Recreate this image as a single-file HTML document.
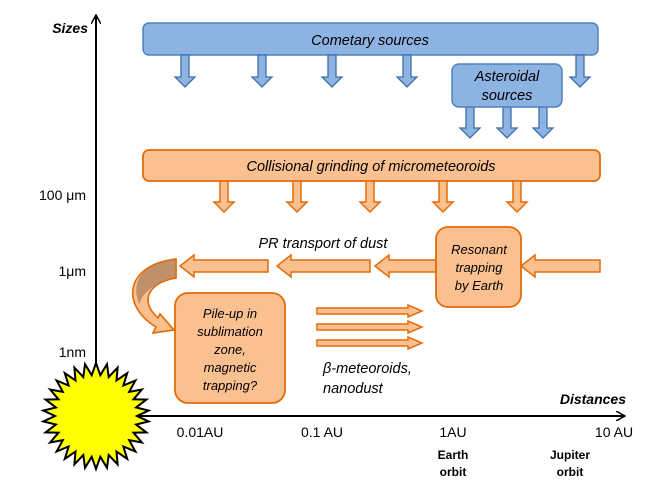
<!DOCTYPE html>
<html><head><meta charset="utf-8"><style>
html,body{margin:0;padding:0;background:#fff;}
svg{display:block;font-family:"Liberation Sans",sans-serif;}
.it{font-style:italic;}
</style></head><body>
<svg width="664" height="498" viewBox="0 0 664 498" xmlns="http://www.w3.org/2000/svg">
<defs>
<marker id="ah" markerWidth="10" markerHeight="10" refX="8" refY="5" orient="auto" markerUnits="userSpaceOnUse"><path d="M0,0 L9,5 L0,10" fill="none" stroke="#000" stroke-width="1.5"/></marker>
</defs>
<line x1="96" y1="416" x2="96" y2="16" stroke="#000" stroke-width="2" marker-end="url(#ah)"/>
<line x1="96" y1="416" x2="624" y2="416" stroke="#000" stroke-width="2" marker-end="url(#ah)"/>
<text x="88" y="33" text-anchor="end" font-size="14" font-weight="bold" font-style="italic">Sizes</text>
<text x="626" y="404" text-anchor="end" font-size="14" font-weight="bold" font-style="italic">Distances</text>
<g font-size="14" text-anchor="end">
<text x="86" y="200">100 μm</text>
<text x="86" y="276">1μm</text>
<text x="86" y="357">1nm</text>
</g>
<g font-size="14" text-anchor="middle">
<text x="200" y="437">0.01AU</text>
<text x="322" y="437">0.1 AU</text>
<text x="453" y="437">1AU</text>
<text x="614" y="437">10 AU</text>
</g>
<g font-size="12" font-weight="bold" text-anchor="middle">
<text x="453" y="459">Earth</text><text x="453" y="476">orbit</text>
<text x="570" y="459">Jupiter</text><text x="570" y="476">orbit</text>
</g>
<rect x="143" y="23" width="455" height="32" rx="6" fill="#8db3e2" stroke="#4f81bd" stroke-width="1.5"/>
<text x="370" y="45" text-anchor="middle" font-size="14.5" class="it">Cometary sources</text>
<g fill="#8db3e2" stroke="#3f6ea8" stroke-width="1.3">
<polygon points="181,55 189,55 189,77 195,77 185,87 175,77 181,77" />
<polygon points="258,55 266,55 266,77 272,77 262,87 252,77 258,77" />
<polygon points="328,55 336,55 336,77 342,77 332,87 322,77 328,77" />
<polygon points="403,55 411,55 411,77 417,77 407,87 397,77 403,77" />
<polygon points="576,55 584,55 584,77 590,77 580,87 570,77 576,77" />
<polygon points="466,107 474,107 474,128 480,128 470,138 460,128 466,128" />
<polygon points="503,107 511,107 511,128 517,128 507,138 497,128 503,128" />
<polygon points="539,107 547,107 547,128 553,128 543,138 533,128 539,128" />
</g>
<rect x="452" y="64" width="110" height="43" rx="7" fill="#8db3e2" stroke="#4f81bd" stroke-width="1.5"/>
<text x="507" y="81" text-anchor="middle" font-size="14.5" class="it">Asteroidal</text>
<text x="507" y="100" text-anchor="middle" font-size="14.5" class="it">sources</text>
<rect x="143" y="150" width="457" height="31" rx="6" fill="#fac090" stroke="#e36c09" stroke-width="1.8"/>
<text x="371" y="171" text-anchor="middle" font-size="14.5" class="it">Collisional grinding of micrometeoroids</text>
<g fill="#fac090" stroke="#e36c09" stroke-width="1.5">
<polygon points="220,181 228,181 228,202 234,202 224,212 214,202 220,202"/>
<polygon points="293,181 301,181 301,202 307,202 297,212 287,202 293,202"/>
<polygon points="366,181 374,181 374,202 380,202 370,212 360,202 366,202"/>
<polygon points="439,181 447,181 447,202 453,202 443,212 433,202 439,202"/>
<polygon points="513,181 521,181 521,202 527,202 517,212 507,202 513,202"/>
<polygon points="600,260 535,260 535,255 521,266 535,277 535,272 600,272"/>
<polygon points="436,260 389,260 389,255 375,266 389,277 389,272 436,272"/>
<polygon points="370,260 291,260 291,255 277,266 291,277 291,272 370,272"/>
<polygon points="268,260 194,260 194,255 180,266 194,277 194,272 268,272"/>
<polygon points="317,308 408,308 408,305 422,311 408,317 408,314 317,314"/>
<polygon points="317,324 408,324 408,321 422,327 408,333 408,330 317,330"/>
<polygon points="317,340 408,340 408,337 422,343 408,349 408,346 317,346"/>
<path d="M176,259 L176,278 C150,282 138,300 158,318 L160,314 L174,330 L153,333 L156,327 C120,305 125,265 176,259 Z" fill="#fac090"/>
<path d="M176,259 L176,278 C150,282 138,300 140,305 C130,285 140,262 176,259 Z" fill="#c0906a" stroke="none"/>
<path d="M176,259 L176,278 C150,282 138,300 158,318 L160,314 L174,330 L153,333 L156,327 C120,305 125,265 176,259 Z" fill="none"/>
</g>
<rect x="436" y="227" width="85" height="80" rx="12" fill="#fac090" stroke="#e36c09" stroke-width="1.8"/>
<g font-size="13" class="it" text-anchor="middle">
<text x="479" y="254">Resonant</text><text x="479" y="272">trapping</text><text x="479" y="290">by Earth</text>
</g>
<rect x="175" y="293" width="110" height="110" rx="13" fill="#fac090" stroke="#e36c09" stroke-width="1.8"/>
<g font-size="13" class="it" text-anchor="middle">
<text x="230" y="318">Pile-up in</text><text x="230" y="336">sublimation</text><text x="230" y="354">zone,</text><text x="230" y="372">magnetic</text><text x="230" y="390">trapping?</text>
</g>
<text x="323" y="248" text-anchor="middle" font-size="14.5" class="it">PR transport of dust</text>
<text x="323" y="373" font-size="14.5" class="it">β-meteoroids,</text>
<text x="323" y="393" font-size="14.5" class="it">nanodust</text>
<polygon id="sun" fill="#ffff00" stroke="#000" stroke-width="2" points=""/>
<script>
(function(){var p=[],n=30,cx=96,cy=416;for(var i=0;i<2*n;i++){var a=i*Math.PI/n-Math.PI/2,r=i%2?41:53;p.push((cx+r*Math.cos(a)).toFixed(1)+","+(cy+r*Math.sin(a)).toFixed(1));}document.getElementById("sun").setAttribute("points",p.join(" "));})();
</script>
</svg>
</body></html>
